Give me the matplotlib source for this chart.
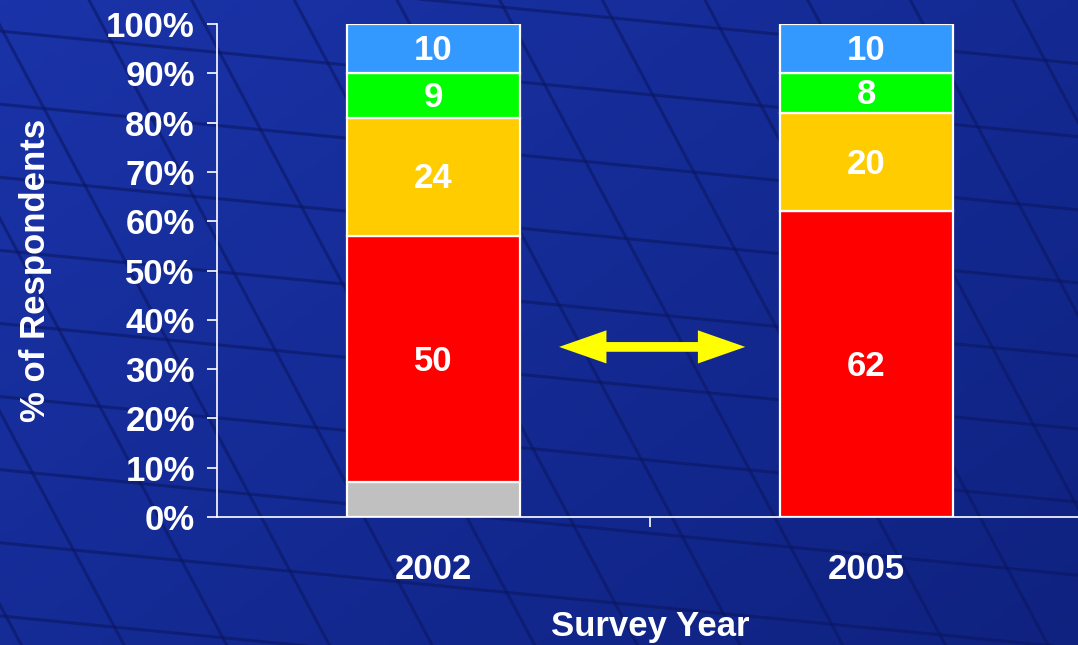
import numpy as np
import matplotlib
matplotlib.use('Agg')
import matplotlib.pyplot as plt

# data
years = ['2002', '2005']
gray = [7, 0]
red = [50, 62]
yellow = [24, 20]
green = [9, 8]
blue = [10, 10]
segments = [gray, red, yellow, green, blue]
seg_colors = ['#c0c0c0', '#ff0000', '#ffcc00', '#00ff00', '#3399ff']
seg_labels = [False, True, True, True, True]
yticks = np.arange(0, 101, 10)

plt.rcParams['font.family'] = ['Liberation Sans', 'DejaVu Sans']
plt.rcParams['font.weight'] = 'bold'

fig = plt.figure(figsize=(10.78, 6.45), dpi=100)
fig.patch.set_facecolor('#142894')

# background: blue gradient with a slanted window grid
bg = fig.add_axes([0, 0, 1, 1], zorder=0)
gx, gy = np.meshgrid(np.linspace(0, 1, 200), np.linspace(0, 1, 200))
shade = 0.55 * gx + 0.45 * (1 - gy)
bg.imshow(shade, cmap=matplotlib.colors.LinearSegmentedColormap.from_list(
    'bgc', ['#1a33a8', '#0f2280']), extent=[0, 1, 0, 1], aspect='auto', origin='lower')
for k in np.linspace(-0.6, 1.4, 22):
    bg.plot([k, k + 0.35], [1.05, -0.05], color='#0a1660', lw=2.2, alpha=0.55)
for k in np.linspace(-0.4, 1.3, 16):
    bg.plot([-0.05, 1.05], [k, k - 0.18], color='#0a1660', lw=2.2, alpha=0.55)
bg.set_xlim(0, 1)
bg.set_ylim(0, 1)
bg.axis('off')

ax = fig.add_axes([217 / 1078, 1 - 517 / 645, 866 / 1078, 493 / 645], zorder=1)
ax.patch.set_alpha(0)

x = np.arange(len(years))
bottom = np.zeros(len(years))
for vals, col, show in zip(segments, seg_colors, seg_labels):
    vals = np.array(vals, dtype=float)
    ax.bar(x, vals, 0.4, bottom=bottom, color=col, edgecolor='white', linewidth=1.6)
    if show:
        for xi, b, v in zip(x, bottom, vals):
            if v > 0:
                ax.text(xi, b + v / 2 - 0.4, str(int(v)), ha='center', va='center',
                        color='white', fontsize=25, fontweight='bold')
    bottom += vals

# double-headed arrow between the bars
ax.annotate('', xy=(0.72, 34.5), xytext=(0.29, 34.5),
            arrowprops=dict(arrowstyle='<|-|>,head_length=2.0,head_width=0.7',
                            color='#ffff00', lw=7, shrinkA=0, shrinkB=0,
                            joinstyle='miter', capstyle='butt'))

ax.set_xlim(-0.5, 1.5)
ax.set_ylim(0, 100)
ax.set_yticks(yticks)
ax.set_yticklabels([f'{t}%' for t in yticks])
ax.set_xticks(x)
ax.set_xticklabels(years)
ax.set_xticks([0.5], minor=True)
ax.tick_params(axis='x', which='major', length=0, pad=26, labelsize=25, colors='white')
ax.tick_params(axis='x', which='minor', length=7, width=1.2, color='white')
ax.tick_params(axis='y', length=7, width=1.2, pad=9, labelsize=25, colors='white')
for s in ['top', 'right']:
    ax.spines[s].set_visible(False)
for s in ['left', 'bottom']:
    ax.spines[s].set_color('white')
    ax.spines[s].set_linewidth(1.2)

ax.set_xlabel('Survey Year', fontsize=25, fontweight='bold', color='white')
ax.set_ylabel('% of Respondents', fontsize=25, fontweight='bold', color='white')
ax.xaxis.set_label_coords(0.5, -0.188)
ax.yaxis.set_label_coords(-0.19, 0.5)

plt.savefig('out.png', dpi=100, facecolor=fig.get_facecolor())
